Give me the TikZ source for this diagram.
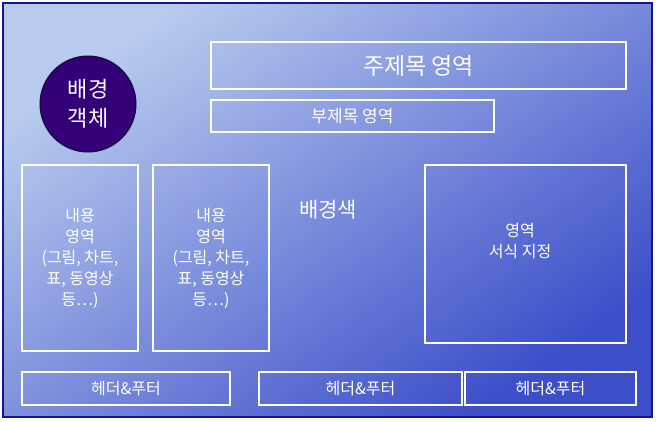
\documentclass[tikz,border=0pt]{standalone}
\usepackage{fontspec}
\setmainfont{Noto Sans CJK KR}
\begin{document}
\begin{tikzpicture}[x=1pt,y=-1pt,
  wbox/.style={draw=white,line width=2.5pt,inner sep=0pt,text=white},
  lbl/.style={text=white,align=center,font=\fontsize{16}{21}\selectfont}]
\useasboundingbox (0,0) rectangle (656,421);
\shade[top color={rgb,255:red,184;green,203;blue,238}, bottom color={rgb,255:red,60;green,78;blue,200}, shading angle=35] (3,3) rectangle (652,417);
\draw[draw={rgb,255:red,20;green,20;blue,150},line width=2pt] (3,3) rectangle (652,417);
\node[circle,minimum size=96pt,fill={rgb,255:red,51;green,0;blue,120},draw={rgb,255:red,20;green,10;blue,60},line width=1pt,lbl,font=\fontsize{22}{29}\selectfont] (obj) at (88,104) {배경\\객체};
\node[wbox,minimum width=415pt,minimum height=47pt,font=\fontsize{23}{27}\selectfont] (title) at (418.5,65.5) {주제목 영역};
\node[wbox,minimum width=283pt,minimum height=32pt,font=\fontsize{17}{20}\selectfont] (sub) at (352.5,116) {부제목 영역};
\node[wbox,minimum width=116pt,minimum height=186pt] (c1) at (80,258) {};
\node[lbl] at (c1) {내용\\영역\\(그림, 차트,\\표, 동영상\\등…)};
\node[wbox,minimum width=116pt,minimum height=186pt] (c2) at (211,258) {};
\node[lbl] at (c2) {내용\\영역\\(그림, 차트,\\표, 동영상\\등…)};
\node[lbl,font=\fontsize{21}{25}\selectfont] (bg) at (328,210) {배경색};
\node[wbox,minimum width=201pt,minimum height=178pt] (fmt) at (525.5,254) {};
\node[lbl,font=\fontsize{16}{21}\selectfont] at (520,241) {영역\\서식 지정};
\node[wbox,minimum width=208pt,minimum height=33pt,lbl] (f1) at (126,388.5) {헤더\&푸터};
\node[wbox,minimum width=203pt,minimum height=33pt,lbl] (f2) at (360.5,388.5) {헤더\&푸터};
\node[wbox,minimum width=171pt,minimum height=33pt,lbl] (f3) at (550.5,388.5) {헤더\&푸터};
\end{tikzpicture}
\end{document}
